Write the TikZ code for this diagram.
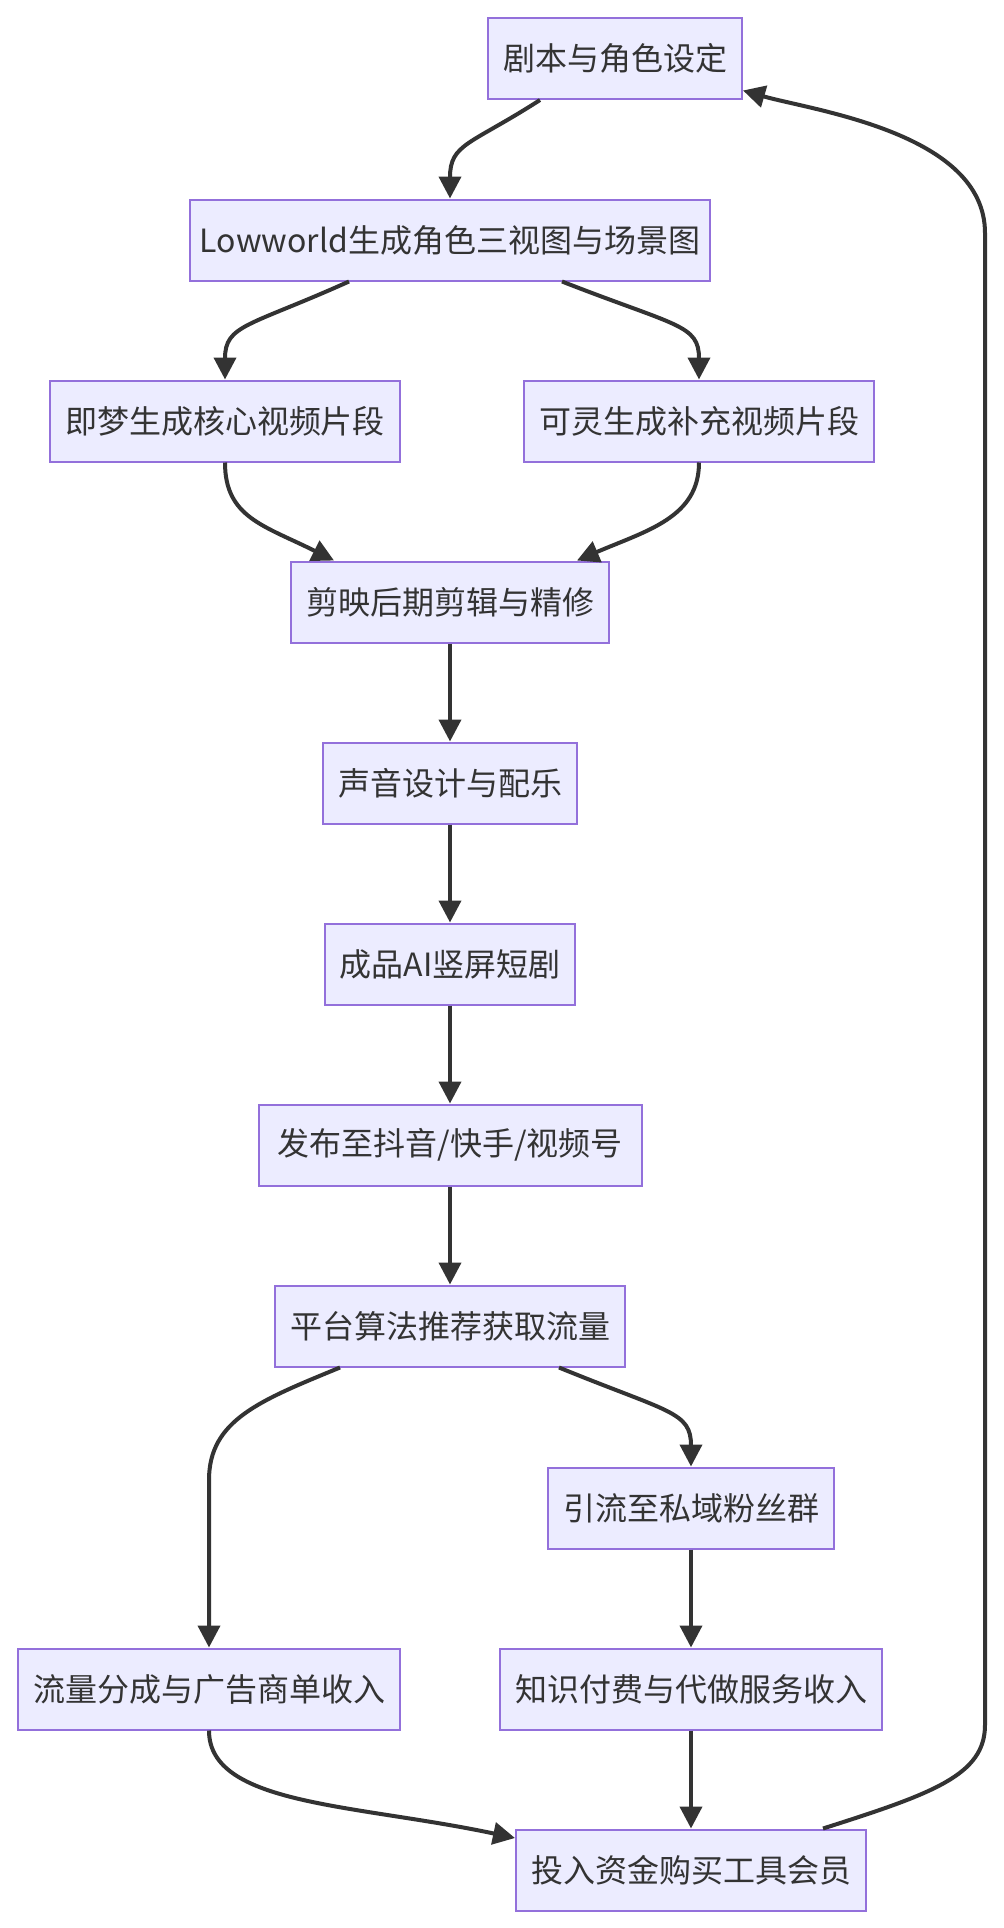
\documentclass[tikz,border=0pt]{standalone}
\usepackage{fontspec}
\setmainfont{Noto Sans CJK SC}
\usetikzlibrary{arrows.meta}
\definecolor{nodefill}{HTML}{ECECFF}
\definecolor{nodeedge}{HTML}{9370DB}
\definecolor{ink}{HTML}{333333}

\begin{document}
\begin{tikzpicture}[x=0.5pt,y=-0.5pt,font=\fontsize{16}{19}\selectfont,
  box/.style={draw=nodeedge,fill=nodefill,line width=1pt,text=ink,minimum height=40.5pt,inner sep=0pt},
  flow/.style={-{Triangle[length=11pt,width=11pt]},line width=2pt,draw=ink}]
  \fill[white] (0,0) rectangle (1004,1928);
  \useasboundingbox (0,0) rectangle (1004,1928);

  % ===== nodes =====
  \node[box,minimum width=127pt] (script) at (615,58.5) {剧本与角色设定};
  \node[box,minimum width=260pt] (lowworld) at (450,240) {Lowworld生成角色三视图与场景图};
  \node[box,minimum width=175pt] (jimeng) at (225,421) {即梦生成核心视频片段};
  \node[box,minimum width=175pt] (keling) at (699,421) {可灵生成补充视频片段};
  \node[box,minimum width=159pt] (jianying) at (450,602) {剪映后期剪辑与精修};
  \node[box,minimum width=127pt] (sound) at (450,783) {声音设计与配乐};
  \node[box,minimum width=125pt] (product) at (450,964) {成品AI竖屏短剧};
  \node[box,minimum width=191.5pt] (publish) at (450,1145) {发布至抖音/快手/视频号};
  \node[box,minimum width=175pt] (platform) at (450,1326) {平台算法推荐获取流量};
  \node[box,minimum width=143pt] (private) at (691,1508) {引流至私域粉丝群};
  \node[box,minimum width=191pt] (adincome) at (209,1689) {流量分成与广告商单收入};
  \node[box,minimum width=191pt] (serviceincome) at (691,1689) {知识付费与代做服务收入};
  \node[box,minimum width=175pt] (reinvest) at (691,1870) {投入资金购买工具会员};

  % ===== production =====
  \draw[flow] ([xshift=-37.5pt]script.south) .. controls +(-70,45) and +(0,-55) .. (lowworld.north);
  \draw[flow] ([xshift=-50.5pt]lowworld.south) .. controls +(-100,45) and +(0,-55) .. (jimeng.north);
  \draw[flow] ([xshift=56pt]lowworld.south) .. controls +(115,45) and +(0,-55) .. (keling.north);
  \draw[flow] (jimeng.south) .. controls +(0,55) and +(-70,-35) .. ([xshift=-58pt]jianying.north);
  \draw[flow] (keling.south) .. controls +(0,55) and +(70,-30) .. ([xshift=63.5pt]jianying.north);
  \draw[flow] (jianying) -- (sound);
  \draw[flow] (sound) -- (product);
  \draw[flow] (product) -- (publish);
  \draw[flow] (publish) -- (platform);

  % ===== income =====
  \draw[flow] ([xshift=-55pt]platform.south) .. controls +(-80,33) and +(0,-60) .. (adincome.north |- 0,1480) -- (adincome.north);
  \draw[flow] ([xshift=54.5pt]platform.south) .. controls +(110,45) and +(0,-55) .. (private.north);
  \draw[flow] (private) -- (serviceincome);
  \draw[flow] (serviceincome) -- (reinvest);
  \draw[flow] (adincome.south) .. controls +(0,75) and +(-160,-34) .. ([yshift=16pt]reinvest.west);

  % ===== loop back =====
  \coordinate (railbot) at (985,1725);
  \coordinate (railtop) at (985,233);
  \draw[flow] ([xshift=66pt]reinvest.north) .. controls +(110,-35) and +(0,50) .. (railbot) -- (railtop) .. controls +(0,-100) and +(70,20) .. ([yshift=-16pt]script.east);
\end{tikzpicture}
\end{document}
